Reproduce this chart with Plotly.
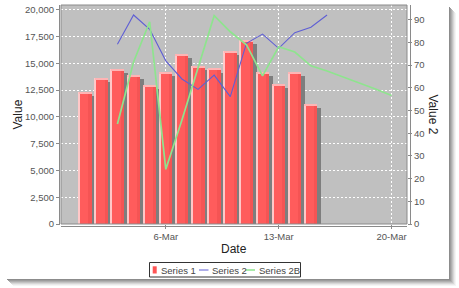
import plotly.graph_objects as go

# ---------------- data ----------------
bar_dates = ["2007-03-%02d" % d for d in range(1, 16)]
series1 = [12300, 13650, 14450, 13900, 12950, 14200, 15850, 14750, 14500,
           16150, 17150, 14150, 13050, 14150, 11200]

s2_dates = ["2007-03-%02d" % d for d in range(3, 17)]
series2 = [79.2, 92.1, 85.8, 71.9, 63.9, 59.3, 65.6, 56.1, 79.6, 83.7,
           77.4, 84.3, 86.7, 92.1]

s2b_dates = ["2007-03-%02d" % d for d in range(3, 21)]
series2b = [44.1, 71.4, 89.1, 24.1, 45.8, 68.7, 91.8, 84.7, 79.0, 65.3,
            78.1, 75.8, 69.7, 67.4, 64.8, 62.1, 59.5, 56.6]

x_tick_vals = ["2007-03-06", "2007-03-13", "2007-03-20"]

# ---------------- geometry / style ----------------
W, H = 459, 288
L, R, T, B = 61, 407, 5, 224
PW, PH = R - L, B - T
Y1MAX = 20450
Y2MAX = 96.5
DAY = 86400000
DAYPX = 16.12

def PX(px):
    return (px - L) / PW

def PY(py):
    return (B - py) / PH

unit_px = Y1MAX / PH  # value units per pixel on left axis
FONT = "Liberation Sans"
TICKC = "#555555"

fig = go.Figure()

# shadow of bars
fig.add_trace(go.Bar(
    x=bar_dates, y=[v - 4 * unit_px for v in series1],
    width=0.8 * DAY, offset=-0.4 * DAY + 4 / DAYPX * DAY,
    marker=dict(color="#7e7e7e", line=dict(width=0)),
    showlegend=False, hoverinfo="skip"))
# main bar
fig.add_trace(go.Bar(
    x=bar_dates, y=series1, name="Series 1",
    width=0.8 * DAY, offset=-0.4 * DAY,
    marker=dict(color="#FF5C5C", line=dict(width=0)),
    showlegend=False))
# slightly darker right part
fig.add_trace(go.Bar(
    x=bar_dates, y=series1,
    width=0.2 * DAY, offset=0.2 * DAY,
    marker=dict(color="#F55454", line=dict(width=0)),
    showlegend=False, hoverinfo="skip"))
# left highlight
fig.add_trace(go.Bar(
    x=bar_dates, y=series1,
    width=1.4 / DAYPX * DAY, offset=-0.4 * DAY,
    marker=dict(color="#FFC8C8", line=dict(width=0)),
    showlegend=False, hoverinfo="skip"))
# top highlight
fig.add_trace(go.Bar(
    x=bar_dates, y=[1.2 * unit_px] * len(series1),
    base=[v - 1.2 * unit_px for v in series1],
    width=0.8 * DAY, offset=-0.4 * DAY,
    marker=dict(color="#FFB4B4", line=dict(width=0)),
    showlegend=False, hoverinfo="skip"))

fig.add_trace(go.Scatter(
    x=s2_dates, y=series2, name="Series 2", yaxis="y2", mode="lines",
    line=dict(color="#5F5FD4", width=1.1), showlegend=False))
fig.add_trace(go.Scatter(
    x=s2b_dates, y=series2b, name="Series 2B", yaxis="y2", mode="lines",
    line=dict(color="#8EE48E", width=1.7), showlegend=False))

shapes = []
# panel drop shadow (outside the plot area)
shadow_cols = ["#8c8c8c", "#9c9c9c", "#afafaf", "#c3c3c3", "#d7d7d7", "#e9e9e9", "#f5f5f5"]
for i, c in enumerate(shadow_cols):
    shapes.append(dict(type="rect", xref="paper", yref="paper",
                       x0=PX(449 + i), x1=PX(450 + i), y0=PY(280 + i), y1=PY(7 + i),
                       fillcolor=c, line=dict(width=0), layer="below"))
    shapes.append(dict(type="rect", xref="paper", yref="paper",
                       x0=PX(7 + i), x1=PX(450 + i), y0=PY(280 + i), y1=PY(279 + i),
                       fillcolor=c, line=dict(width=0), layer="below"))
# plot border
shapes.append(dict(type="rect", xref="paper", yref="paper", x0=0, x1=1, y0=0, y1=1,
                   line=dict(color="#8a8a8a", width=1), fillcolor="rgba(0,0,0,0)", layer="above"))
# offset axis lines
shapes.append(dict(type="line", xref="paper", yref="paper", x0=PX(59.5), x1=PX(59.5),
                   y0=0, y1=1, line=dict(color="#8a8a8a", width=1)))
shapes.append(dict(type="line", xref="paper", yref="paper", x0=PX(410.5), x1=PX(410.5),
                   y0=0, y1=1, line=dict(color="#8a8a8a", width=1)))
shapes.append(dict(type="line", xref="paper", yref="paper", x0=0, x1=1,
                   y0=PY(226.5), y1=PY(226.5), line=dict(color="#8a8a8a", width=1)))

# manual legend
shapes.append(dict(type="rect", xref="paper", yref="paper",
                   x0=PX(149.5), x1=PX(300.5), y0=PY(277), y1=PY(262.5),
                   line=dict(color="#333333", width=1), fillcolor="white"))
shapes.append(dict(type="rect", xref="paper", yref="paper",
                   x0=PX(152.7), x1=PX(156.7), y0=PY(273.5), y1=PY(266.3),
                   line=dict(width=0), fillcolor="#FF5555"))
shapes.append(dict(type="line", xref="paper", yref="paper",
                   x0=PX(199), x1=PX(208.5), y0=PY(270), y1=PY(270),
                   line=dict(color="#5F5FD4", width=1)))
shapes.append(dict(type="line", xref="paper", yref="paper",
                   x0=PX(245.5), x1=PX(255), y0=PY(270), y1=PY(270),
                   line=dict(color="#8EE48E", width=1.5)))

TITLEF = dict(family=FONT, size=12, color="#222222")
annotations = [
    dict(text="Value", x=PX(17), y=0.5, xref="paper", yref="paper", textangle=-90,
         xanchor="center", yanchor="middle", showarrow=False, font=TITLEF),
    dict(text="Value 2", x=PX(433), y=0.5, xref="paper", yref="paper", textangle=90,
         xanchor="center", yanchor="middle", showarrow=False, font=TITLEF),
    dict(text="Date", x=PX(234), y=PY(249), xref="paper", yref="paper",
         xanchor="center", yanchor="middle", showarrow=False, font=TITLEF),
]
for txt, px in [("Series 1", 158.5), ("Series 2", 210), ("Series 2B", 256.5)]:
    annotations.append(dict(text=txt, x=PX(px), y=PY(270), xref="paper", yref="paper",
                            xanchor="left", yanchor="middle", showarrow=False,
                            font=dict(family=FONT, size=9.5, color="#444444")))

TICKF = dict(family=FONT, size=9.5, color=TICKC)
fig.update_layout(
    width=W, height=H,
    margin=dict(l=L, r=W - R, t=T, b=H - B, pad=0),
    paper_bgcolor="white", plot_bgcolor="#C0C0C0",
    barmode="overlay", bargap=0, showlegend=False,
    font=dict(family=FONT, size=10, color=TICKC),
    xaxis=dict(type="date", range=["2007-02-27 12:00", "2007-03-20 23:00"],
               tickvals=x_tick_vals, tickformat="%-d-%b",
               showgrid=True, gridcolor="white", griddash="2px,2px", gridwidth=1,
               ticks="outside", ticklen=4, tickcolor="#8a8a8a",
               showline=False, zeroline=False, tickfont=TICKF),
    yaxis=dict(range=[0, Y1MAX], dtick=2500, tickformat=",d",
               showgrid=True, gridcolor="white", griddash="2px,2px", gridwidth=1,
               ticks="outside", ticklen=4, tickcolor="#8a8a8a",
               showline=False, zeroline=False, tickfont=TICKF),
    yaxis2=dict(range=[0, Y2MAX], dtick=10, overlaying="y", side="right",
                showgrid=False, ticks="outside", ticklen=4, tickcolor="#8a8a8a",
                showline=False, zeroline=False, tickfont=TICKF),
    shapes=shapes, annotations=annotations,
)

fig.write_html("out.html")
